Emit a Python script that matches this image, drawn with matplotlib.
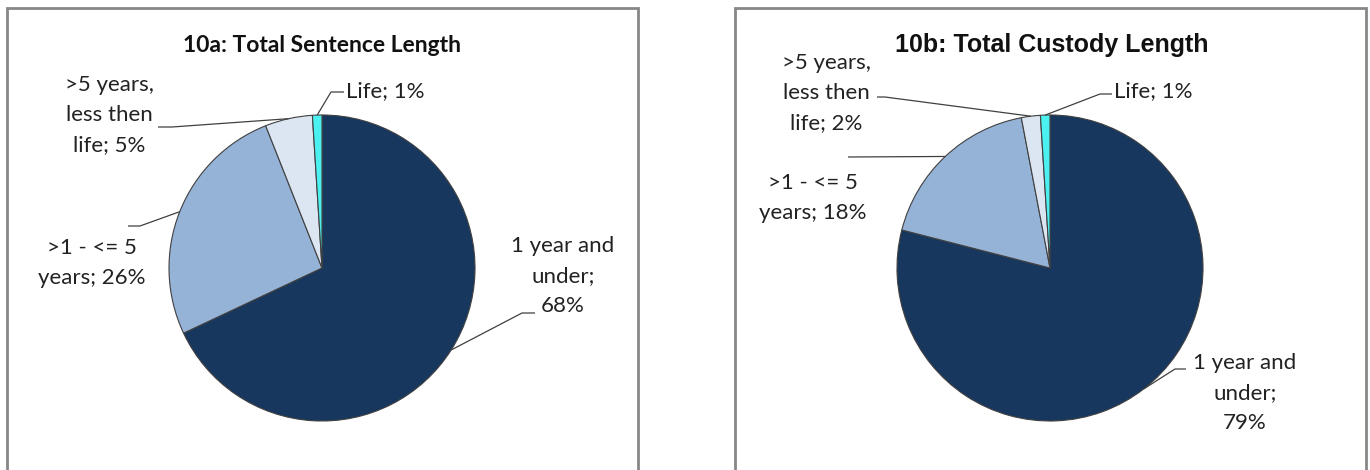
import numpy as np
import matplotlib.pyplot as plt
from matplotlib.patches import Rectangle

# slice order: clockwise from 12 o'clock
categories = ["1 year and under", ">1 - <= 5 years", ">5 years, less then life", "Life"]
sentence_pct = [68, 26, 5, 1]
custody_pct = [79, 18, 2, 1]
label_fmt = ["1 year and\nunder;\n{}%", ">1 - <= 5\nyears; {}%", ">5 years,\nless then\nlife; {}%", "Life; {}%"]
colors = ["#17375E", "#95B3D7", "#DCE6F2", "#4BF0F0"]

W, H = 1370, 470
LABEL_FONT = ["Lato", "DejaVu Sans"]


def py(y):
    # pixel rows are counted from the top
    return H - y


panels = [
    dict(values=sentence_pct, title="10a: Total Sentence Length",
         title_font=dict(family=LABEL_FONT, size=16.5, weight="bold"),
         title_xy=(322, 45), center=(322, 268), radius=153, frame=(7, 638),
         # (elbow, end of shelf, text xy, ha) per slice
         labels=[((522, 313), (535, 313), (563, 276), "center"),
                 ((140, 226), (128, 226), (92, 263), "center"),
                 ((172, 127), (158, 127), (109, 115), "center"),
                 ((331, 92), (344, 92), (346, 91), "left")]),
    dict(values=custody_pct, title="10b: Total Custody Length",
         title_font=dict(family=["Liberation Sans", "DejaVu Sans"], size=18, weight="bold"),
         title_xy=(1052, 45), center=(1050, 268), radius=153, frame=(735, 1366),
         labels=[((1175, 369), (1186, 369), (1245, 393), "center"),
                 ((848, 157), (848, 157), (813, 198), "center"),
                 ((885, 97), (877, 97), (826, 93), "center"),
                 ((1100, 94), (1112, 94), (1114, 91), "left")]),
]

fig = plt.figure(figsize=(W / 100, H / 100), dpi=100)
ax = fig.add_axes([0, 0, 1, 1])

for p in panels:
    x0, x1 = p["frame"]
    ax.add_patch(Rectangle((x0, -10), x1 - x0, py(8) + 10, fill=False,
                           edgecolor="#878787", linewidth=2))

    cx, cy = p["center"]
    r = p["radius"]
    wedges, _ = ax.pie(p["values"], colors=colors, startangle=90, counterclock=False,
                       center=(cx, py(cy)), radius=r, frame=True,
                       wedgeprops=dict(edgecolor="#404040", linewidth=0.8))

    for w, v, fmt, (elbow, shelf, txy, ha) in zip(wedges, p["values"], label_fmt, p["labels"]):
        mid = np.deg2rad((w.theta1 + w.theta2) / 2)
        sx, sy = cx + r * np.cos(mid), py(cy) + r * np.sin(mid)
        ax.plot([sx, elbow[0], shelf[0]], [sy, py(elbow[1]), py(shelf[1])],
                color="#404040", linewidth=0.9, solid_capstyle="butt")
        ax.text(txy[0], py(txy[1]), fmt.format(v), ha=ha, va="center",
                family=LABEL_FONT, fontsize=16, color="#222222",
                multialignment="center", linespacing=1.65)

    ax.text(p["title_xy"][0], py(p["title_xy"][1]), p["title"], ha="center", va="center",
            color="#111111", **p["title_font"])

ax.set_xlim(0, W)
ax.set_ylim(0, H)
ax.axis("off")

fig.savefig("out.png", dpi=100, facecolor="white")
